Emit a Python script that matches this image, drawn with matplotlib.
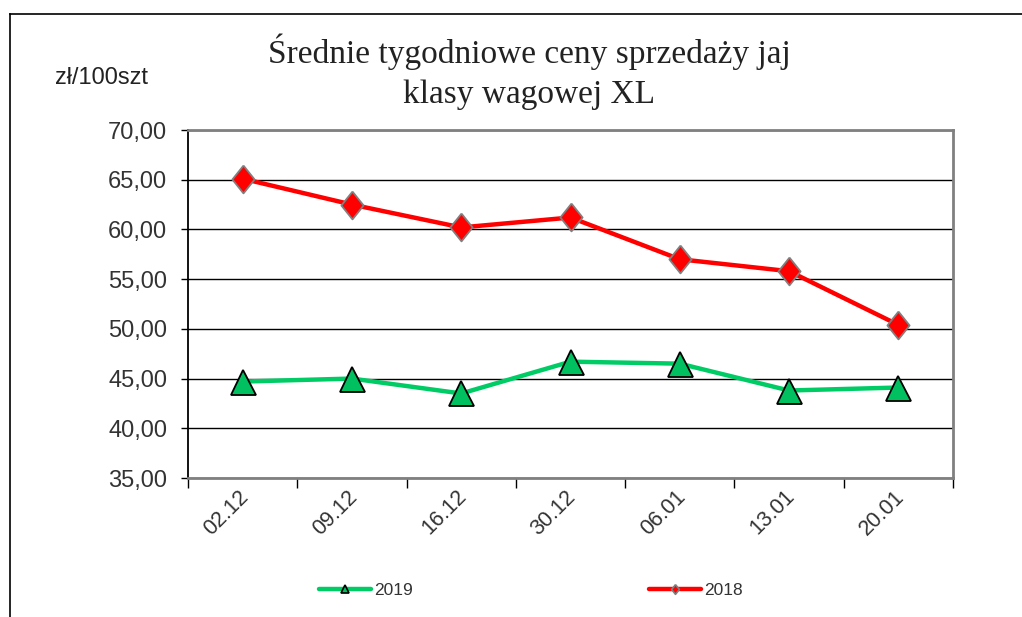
import matplotlib
matplotlib.use("Agg")
import matplotlib.pyplot as plt
from matplotlib.lines import Line2D
from matplotlib.ticker import FuncFormatter, MultipleLocator
from matplotlib.transforms import ScaledTranslation

categories = ["02.12", "09.12", "16.12", "30.12", "06.01", "13.01", "20.01"]
series_2019 = [44.7, 45.0, 43.5, 46.7, 46.5, 43.8, 44.1]
series_2018 = [65.1, 62.5, 60.2, 61.2, 57.0, 55.8, 50.4]

W, H = 1022, 617
fig = plt.figure(figsize=(W / 100, H / 100), dpi=100)
ax = fig.add_axes([188 / W, 1 - 478 / H, (953 - 188) / W, (478 - 130) / H])

diamond = [(0, 1), (0.8, 0), (0, -1), (-0.8, 0), (0, 1)]

x = list(range(len(categories)))
ax.plot(x, series_2019, color="#00CC66", lw=3.2, marker="^", ms=18,
        mfc="#00C060", mec="black", mew=1.3, zorder=3, solid_capstyle="round")
ax.plot(x, series_2018, color="#FF0000", lw=3.2, marker=diamond, ms=20,
        mfc="#FF0000", mec="#808080", mew=1.3, zorder=4, solid_capstyle="round")

ax.set_xlim(-0.5, len(categories) - 0.5)
ax.set_ylim(35, 70)
ax.yaxis.set_major_locator(MultipleLocator(5))
ax.yaxis.set_major_formatter(FuncFormatter(lambda v, p: f"{v:.2f}".replace(".", ",")))
ax.grid(axis="y", color="black", lw=1.0, zorder=1)
ax.set_axisbelow(True)

ax.set_xticks([i - 0.5 for i in range(len(categories) + 1)])
ax.set_xticklabels([])
ax.set_xticks(x, minor=True)
ax.set_xticklabels(categories, minor=True, rotation=45, ha="right",
                   rotation_mode="anchor", fontsize=15.5, color="#333333",
                   family="Liberation Sans")
ax.tick_params(axis="x", which="major", length=7, width=1, color="black", direction="out")
ax.tick_params(axis="x", which="minor", length=0, pad=8)
offset = ScaledTranslation(-5 / 100, 3 / 100, fig.dpi_scale_trans)
for lbl in ax.get_xticklabels(minor=True):
    lbl.set_transform(lbl.get_transform() + offset)
ax.tick_params(axis="y", length=5, width=1, color="black", labelsize=17,
               labelcolor="#333333", pad=10)
for lbl in ax.get_yticklabels():
    lbl.set_family("Liberation Sans")

ax.spines["left"].set_color("black")
ax.spines["left"].set_linewidth(1.3)
for s in ["top", "right", "bottom"]:
    ax.spines[s].set_color("#808080")
    ax.spines[s].set_linewidth(2)

fig.text(529 / W, 1 - 52 / H, "Średnie tygodniowe ceny sprzedaży jaj", ha="center", va="center",
         fontsize=24, family="Liberation Serif", color="#222222")
fig.text(529 / W, 1 - 95 / H, "klasy wagowej XL", ha="center", va="center",
         fontsize=24, family="Liberation Serif", color="#222222")
fig.text(55 / W, 1 - 78 / H, "zł/100szt", ha="left", va="center",
         fontsize=17, family="Liberation Sans", color="#222222")

# outer frame (partially visible)
fig.add_artist(Line2D([10 / W, 1], [1 - 14 / H, 1 - 14 / H], color="black", lw=1.2))
fig.add_artist(Line2D([10 / W, 10 / W], [1 - 14 / H, 0], color="black", lw=1.2))

handles = [
    Line2D([], [], color="#00CC66", lw=3.2, marker="^", ms=6, mfc="#00C060", mec="black", mew=1.2,
           solid_capstyle="round"),
    Line2D([], [], color="#FF0000", lw=3.2, marker=diamond, ms=7, mfc="#FF0000", mec="#808080", mew=1.2,
           solid_capstyle="round"),
]
leg1 = fig.legend([handles[0]], ["2019"], loc="center left", bbox_to_anchor=(319 / W, 1 - 590 / H),
                  frameon=False, handlelength=3.0, handletextpad=0.2, borderpad=0, borderaxespad=0,
                  prop={"family": "Liberation Sans", "size": 12.5})
leg2 = fig.legend([handles[1]], ["2018"], loc="center left", bbox_to_anchor=(649 / W, 1 - 590 / H),
                  frameon=False, handlelength=3.0, handletextpad=0.2, borderpad=0, borderaxespad=0,
                  prop={"family": "Liberation Sans", "size": 12.5})
for leg in (leg1, leg2):
    for t in leg.get_texts():
        t.set_color("#333333")

fig.savefig("out.png", dpi=100)
